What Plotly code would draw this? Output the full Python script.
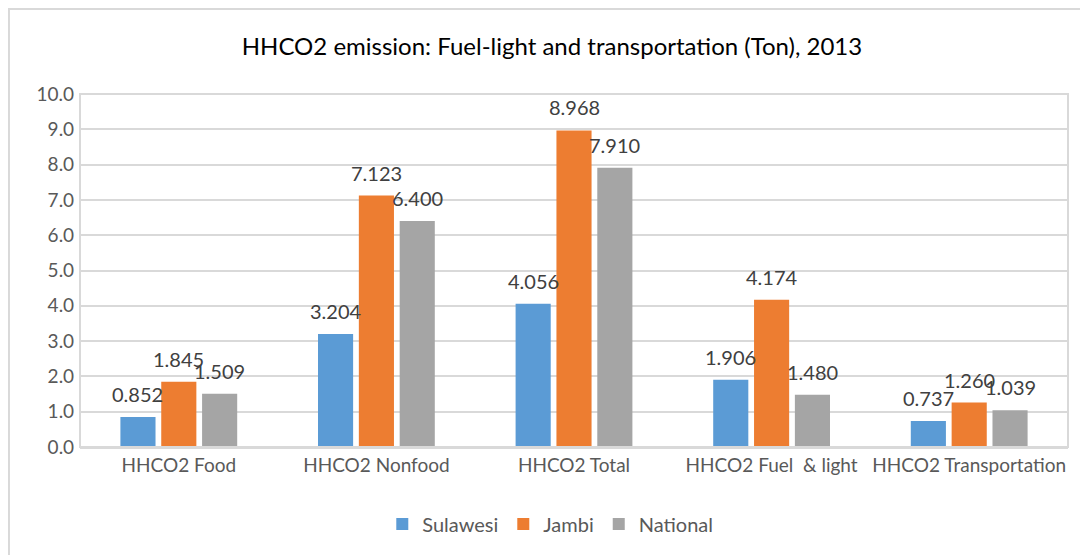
import plotly.graph_objects as go

categories = ["HHCO2 Food", "HHCO2 Nonfood", "HHCO2 Total", "HHCO2 Fuel  & light", "HHCO2 Transportation"]
sulawesi = [0.852, 3.204, 4.056, 1.906, 0.737]
jambi = [1.845, 7.123, 8.968, 4.174, 1.260]
national = [1.509, 6.400, 7.910, 1.480, 1.039]

series = [("Sulawesi", sulawesi, "#5B9BD5"), ("Jambi", jambi, "#ED7D31"), ("National", national, "#A5A5A5")]

bargap = 0.38
fig = go.Figure()
labels = []
for k, (name, vals, col) in enumerate(series):
    fig.add_trace(go.Bar(x=categories, y=vals, name=name, marker=dict(color=col, line=dict(width=0))))
    off = (k - 1) * (1 - bargap) / 3
    for i, v in enumerate(vals):
        labels.append(dict(x=i + off, y=v, text=f"{v:.3f}", showarrow=False, yshift=23,
                           yanchor="middle", font=dict(size=20, color="#404040")))

fig.update_layout(
    width=1088, height=555, barmode="group", bargap=bargap, bargroupgap=0.14,
    font=dict(family="Lato", color="#595959", size=19),
    title=dict(text="HHCO2 emission: Fuel-light and transportation (Ton), 2013", x=0.5, xanchor="center",
               y=0.93, yanchor="middle", font=dict(size=24, color="#000000")),
    margin=dict(l=72, r=28, t=86, b=116),
    plot_bgcolor="white", paper_bgcolor="white",
    legend=dict(orientation="h", x=0.476, xanchor="center", y=-0.218, yanchor="middle",
                font=dict(size=20, color="#595959"), itemwidth=30, tracegroupgap=0),
    xaxis=dict(showline=True, linecolor="#d9d9d9", linewidth=2, ticks="", tickfont=dict(size=19)),
    yaxis=dict(range=[0, 10], dtick=1, tickformat=".1f", gridcolor="#d9d9d9", gridwidth=2,
               zeroline=False, ticks="", tickfont=dict(size=19), ticksuffix=" "),
    annotations=labels,
    shapes=[
        dict(type="rect", xref="paper", yref="paper", x0=0, x1=1, y0=0, y1=1, line=dict(color="#d9d9d9", width=2)),
        dict(type="rect", xref="paper", yref="paper", x0=-0.0719, x1=1.1, y0=-0.5, y1=1.2408,
             line=dict(color="#d9d9d9", width=2)),
    ],
)

fig.write_html("out.html")
